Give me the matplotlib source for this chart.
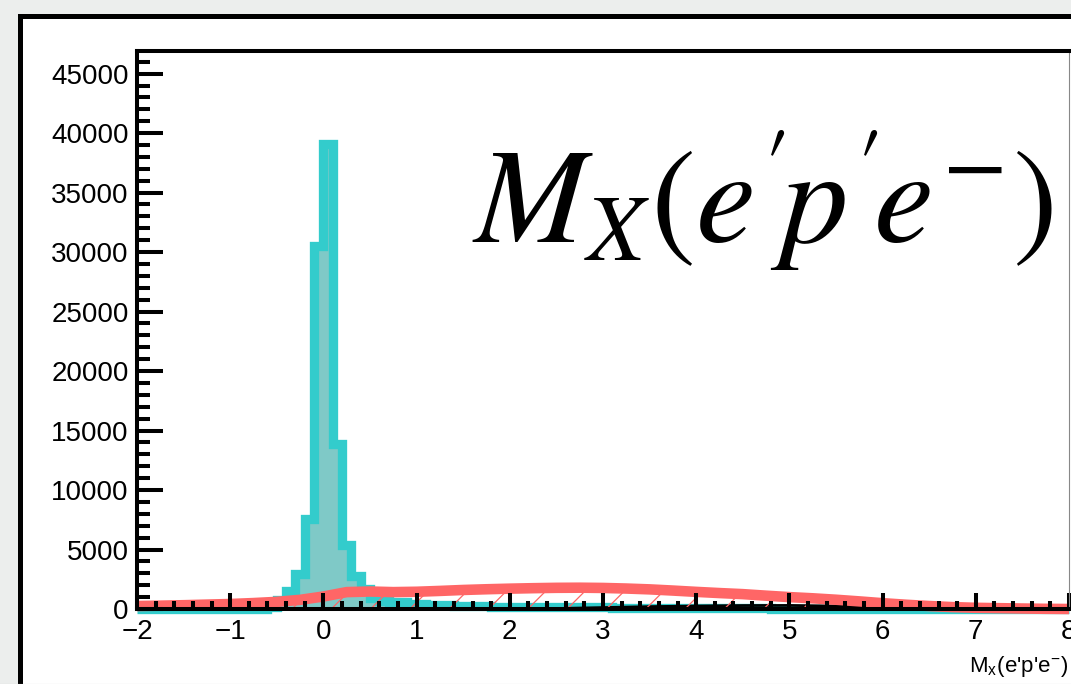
import numpy as np
import matplotlib
matplotlib.use("Agg")
import matplotlib.pyplot as plt
from matplotlib.patches import Rectangle
from matplotlib.collections import LineCollection
from matplotlib.lines import Line2D
from matplotlib.path import Path
from matplotlib.ticker import MultipleLocator

plt.rcParams['mathtext.fontset'] = 'stix'
plt.rcParams['font.family'] = ['Liberation Sans', 'DejaVu Sans']

# ---- histogram: missing mass, 100 bins of 0.1 from -2 to 8 ----
bin_lo, bin_hi, n_bins = -2.0, 8.0, 100
mx_counts = [
    0, 0, 0, 0, 0, 0, 0, 0, 0, 0,                       # -2.0 .. -1.1
    0, 0, 0, 0, 200, 790, 1480, 2970, 7560, 30470,      # -1.0 .. -0.1
    39100, 13890, 5340, 2740, 1700, 950, 670, 600, 550, 450,   # 0.0 .. 0.9
    380, 350, 330, 300, 280, 250, 230, 220, 210, 200,   # 1.0 .. 1.9
    190, 180, 170, 165, 160, 155, 150, 145, 140, 135,   # 2.0 .. 2.9
    130, 125, 120, 115, 110, 105, 100, 95, 90, 85,      # 3.0 .. 3.9
    80, 75, 70, 65, 60, 55, 50, 45, 40, 35,             # 4.0 .. 4.9
    30, 25, 20, 15, 10, 5, 0, 0, 0, 0,                  # 5.0 .. 5.9
    0, 0, 0, 0, 0, 0, 0, 0, 0, 0,                       # 6.0 .. 6.9
    0, 0, 0, 0, 0, 0, 0, 0, 0, 0,                       # 7.0 .. 7.9
]

# ---- smooth background shape (red) ----
bkg_x = [-2.0, -1.75, -1.5, -1.25, -1.0, -0.75, -0.5, -0.25, 0.0, 0.25,
         0.5, 0.75, 1.0, 1.25, 1.5, 1.75, 2.0, 2.25, 2.5, 2.75,
         3.0, 3.25, 3.5, 3.75, 4.0, 4.25, 4.5, 4.75, 5.0, 5.25,
         5.5, 5.75, 6.0, 6.25, 6.5, 6.75, 7.0, 7.25, 7.5, 7.75, 8.0]
bkg_y = [250, 280, 320, 370, 420, 500, 600, 770, 1050, 1420,
         1470, 1420, 1450, 1520, 1600, 1660, 1710, 1750, 1780, 1790,
         1770, 1720, 1650, 1550, 1440, 1340, 1250, 1120, 1000, 900,
         780, 640, 490, 360, 250, 160, 100, 70, 40, 15, 0]

# ---- small black component ----
low_x = [2.5, 3.0, 3.5, 4.0, 4.5, 5.0, 5.5, 6.0, 6.5, 7.0]
low_y = [40, 120, 200, 250, 290, 300, 250, 150, 50, 0]

y_ticks = [0, 5000, 10000, 15000, 20000, 25000, 30000, 35000, 40000, 45000]
x_ticks = [-2, -1, 0, 1, 2, 3, 4, 5, 6, 7, 8]

TEAL = '#33cccc'
TEAL_FILL = '#7fc9c7'
SALMON = '#ff6666'

W, H = 1071, 684
fig = plt.figure(figsize=(W / 100, H / 100), dpi=100, facecolor='#eceeed')


def fx(px):
    return px / W


def fy(py):
    return 1 - py / H


# canvas border
fig.patches.append(Rectangle((fx(19.5), -0.2), 1.5, fy(15.5) + 0.2,
                             transform=fig.transFigure, facecolor='white',
                             edgecolor='black', linewidth=3.6, zorder=-5))
fig.add_artist(Line2D([0, 1], [fy(683.5)] * 2, color='#b8b8b8', lw=0.8, zorder=-4))

ax = fig.add_axes([fx(137), fy(609), fx(1069) - fx(137), fy(51) - fy(609)])
ax.set_zorder(1)
ax.set_xlim(-2, 8)
ax.set_ylim(0, 46900)

edges = np.linspace(bin_lo, bin_hi, n_bins + 1)
ax.stairs(mx_counts, edges, fill=True, facecolor=TEAL_FILL, edgecolor='none', zorder=1.0)
ax.stairs(mx_counts, edges, fill=False, edgecolor=TEAL, linewidth=6.7,
          zorder=1.1, clip_on=False)

ax.plot(low_x, low_y, color='black', lw=2.0, zorder=1.2)

# sparse hatch under the background curve
verts = [(bkg_x[0], 0)] + list(zip(bkg_x, bkg_y)) + [(bkg_x[-1], 0), (bkg_x[0], 0)]
hatch_region = Path(verts, closed=True)
base_in = (H - 609) / 100
segs = []
for k in range(-10, 25):
    x0 = 2.92 + k * 0.393
    segs.append([(x0, base_in), (x0 + 0.5, base_in + 0.5)])
hatch = LineCollection(segs, colors=SALMON, linewidths=0.9,
                       transform=fig.dpi_scale_trans, zorder=1.3)
hatch.set_clip_path(hatch_region, ax.transData)
ax.add_collection(hatch, autolim=False)

ax.plot(bkg_x, bkg_y, color=SALMON, lw=7.6, solid_joinstyle='round',
        solid_capstyle='butt', zorder=1.5, clip_on=False)

# axes frame and ticks
for side in ('left', 'top', 'bottom'):
    ax.spines[side].set_linewidth(2.9)
    ax.spines[side].set_color('black')
ax.spines['right'].set_linewidth(0.8)
ax.spines['right'].set_color('#888888')

ax.set_xticks(x_ticks)
ax.set_yticks(y_ticks)
ax.set_yticklabels([str(v) for v in y_ticks])
ax.xaxis.set_minor_locator(MultipleLocator(0.2))
ax.yaxis.set_minor_locator(MultipleLocator(1000))
ax.tick_params(which='both', direction='in', width=2.9, color='black',
               top=False, right=False, labelsize=20)
ax.xaxis.set_tick_params(which='major', length=11.5, pad=7)
ax.xaxis.set_tick_params(which='minor', length=5.8)
ax.yaxis.set_tick_params(which='major', length=18.7, pad=6)
ax.yaxis.set_tick_params(which='minor', length=9.4)

fig.text(fx(1068), fy(672), r"M$_{\mathregular{x}}$(e'p'e$^{\mathregular{-}}$)",
         ha='right', va='baseline', fontsize=16, zorder=3)

fig.text(fx(472), fy(243), r"$M_X(e'\!p'\!e^{-})$", ha='left', va='baseline',
         fontsize=97, zorder=3)

fig.savefig('out.png', dpi=100, facecolor=fig.get_facecolor())
